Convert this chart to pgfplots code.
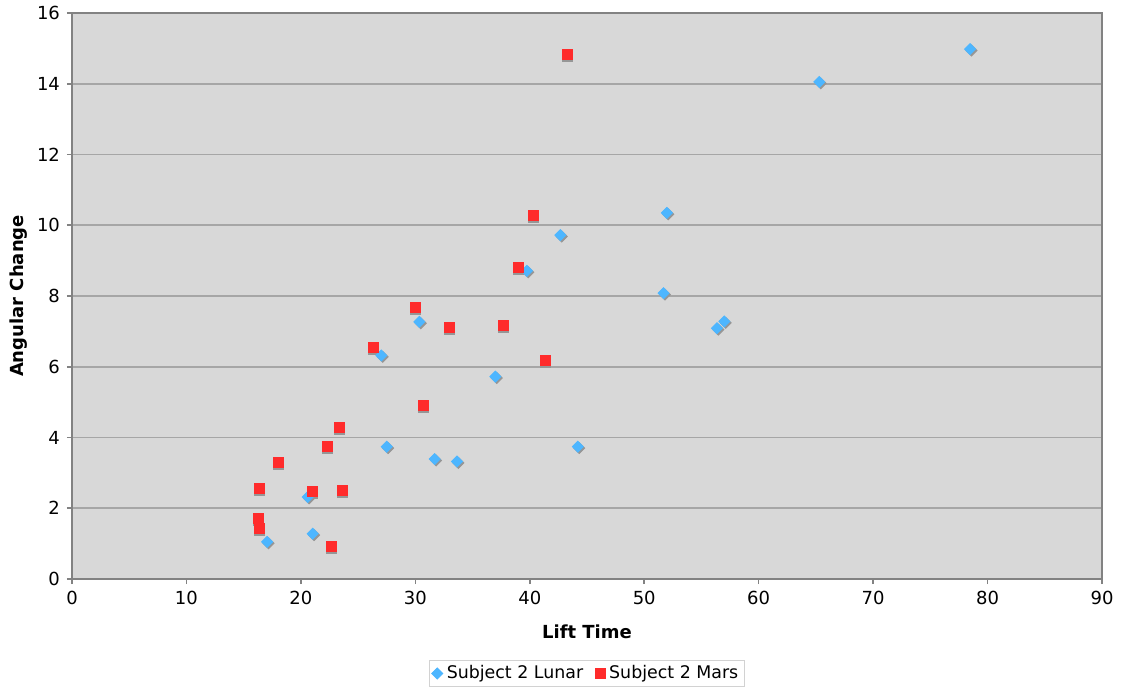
\documentclass[border=0pt]{standalone}
\usepackage{pgfplots}
\pgfplotsset{compat=1.18}
\usepackage{fontspec}
\setmainfont{DejaVu Sans}
\definecolor{plotbg}{RGB}{216,216,216}
\definecolor{gridc}{RGB}{166,166,166}
\definecolor{axisc}{RGB}{130,130,130}
\definecolor{lunar}{RGB}{77,182,255}
\definecolor{mars}{RGB}{255,43,43}
\definecolor{shadow}{RGB}{150,150,150}

\begin{document}
\begin{tikzpicture}
\begin{axis}[
    scale only axis,
    width=515pt, height=283pt,
    xmin=0, xmax=90,
    ymin=0, ymax=16,
    xtick={0,10,...,90},
    ytick={0,2,...,16},
    axis background/.style={fill=plotbg},
    ymajorgrids=true,
    grid style={gridc, line width=0.8pt},
    axis line style={axisc, line width=0.8pt},
    tick style={axisc, line width=0.8pt},
    tick align=outside,
    major tick length=2.5pt,
    xtick pos=bottom, ytick pos=left,
    font=\fontsize{9}{11}\selectfont,
    /pgf/number format/assume math mode=true,
    xlabel={\bfseries Lift Time},
    ylabel={\bfseries Angular Change},
    every axis x label/.style={at={(axis description cs:0.5,0)}, anchor=center, yshift=-26.5pt},
    every axis y label/.style={at={(axis description cs:0,0.5)}, xshift=-26.5pt, rotate=90, anchor=center},
    legend style={at={(0.5,-0.143)}, anchor=north, legend columns=-1,
        draw=gridc!50, fill=white, font=\fontsize{8.7}{10}\selectfont,
        inner xsep=1pt, inner ysep=0.5pt,
        /tikz/every even column/.append style={column sep=4pt}},
    legend cell align=left,
]
\coordinate (bl) at (rel axis cs:0,0);
\coordinate (tr) at (rel axis cs:1,1);
% shadows
\addplot[only marks, mark=square*, mark size=1.95pt, color=shadow, forget plot,
    mark options={rotate=45, yshift=-1pt}] coordinates {
(17.05,1.05)(20.6,2.32)(21.03,1.28)(27.03,6.32)(27.5,3.74)(30.35,7.27)
(31.69,3.39)(33.64,3.32)(36.99,5.72)(39.75,8.71)(42.67,9.72)(44.2,3.74)
(51.69,8.08)(51.98,10.35)(56.35,7.09)(57.0,7.28)(65.3,14.05)(78.47,14.98)
};
\addplot[only marks, mark=square*, mark size=2.5pt, color=shadow, forget plot,
    mark options={yshift=-1pt}] coordinates {
(16.35,2.56)(16.3,1.72)(16.35,1.44)(18.0,3.31)(21.0,2.47)(22.34,3.75)
(22.66,0.92)(23.33,4.29)(23.65,2.51)(26.36,6.55)(30.0,7.69)(30.67,4.90)
(33.0,7.12)(37.66,7.17)(39.0,8.82)(40.3,10.28)(41.33,6.18)(43.3,14.83)
};
% data
\addplot[only marks, mark=square*, mark size=1.95pt, color=lunar,
    mark options={rotate=45}] coordinates {
(17.05,1.05)(20.6,2.32)(21.03,1.28)(27.03,6.32)(27.5,3.74)(30.35,7.27)
(31.69,3.39)(33.64,3.32)(36.99,5.72)(39.75,8.71)(42.67,9.72)(44.2,3.74)
(51.69,8.08)(51.98,10.35)(56.35,7.09)(57.0,7.28)(65.3,14.05)(78.47,14.98)
};
\addlegendentry{Subject 2 Lunar}
\addplot[only marks, mark=square*, mark size=2.5pt, color=mars] coordinates {
(16.35,2.56)(16.3,1.72)(16.35,1.44)(18.0,3.31)(21.0,2.47)(22.34,3.75)
(22.66,0.92)(23.33,4.29)(23.65,2.51)(26.36,6.55)(30.0,7.69)(30.67,4.90)
(33.0,7.12)(37.66,7.17)(39.0,8.82)(40.3,10.28)(41.33,6.18)(43.3,14.83)
};
\addlegendentry{Subject 2 Mars}
\end{axis}
\pgfresetboundingbox
\path[use as bounding box] (bl) ++(-36pt,-56.5pt) rectangle ([shift={(11.5pt,6.5pt)}]tr);
\end{tikzpicture}
\end{document}
